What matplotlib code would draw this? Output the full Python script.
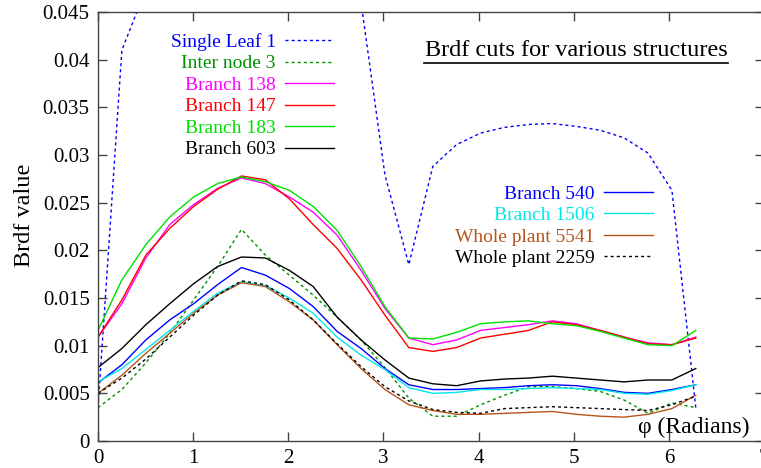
import matplotlib
matplotlib.use("Agg")
import matplotlib.pyplot as plt
from matplotlib.lines import Line2D

plt.rcParams['font.family'] = 'serif'
plt.rcParams['font.serif'] = ['Liberation Serif', 'DejaVu Serif']
plt.rcParams['font.size'] = 14

# azimuth angle phi (radians)
phi = [0.000, 0.251, 0.503, 0.754, 1.005, 1.257, 1.508, 1.759, 2.011, 2.262,
       2.513, 2.765, 3.016, 3.267, 3.519, 3.770, 4.021, 4.273, 4.524, 4.775,
       5.027, 5.278, 5.529, 5.781, 6.032, 6.283]

single_leaf_1 = [0.0035, 0.0410, 0.0474, 0.0490, 0.0500, 0.0510, 0.0515, 0.0510, 0.0500, 0.0490,
                 0.0475, 0.0460, 0.0279, 0.0185, 0.0288, 0.0311, 0.0323, 0.0329, 0.0332, 0.0333,
                 0.0330, 0.0326, 0.0318, 0.0302, 0.0263, 0.0035]
inter_node_3 = [0.0035, 0.0054, 0.0082, 0.0113, 0.0148, 0.0183, 0.0222, 0.0195, 0.0174, 0.0153,
                0.0130, 0.0106, 0.0077, 0.0045, 0.0026, 0.0026, 0.0038, 0.0048, 0.0057, 0.0057,
                0.0055, 0.0052, 0.0043, 0.0029, 0.0040, 0.0035]
branch_138 = [0.0109, 0.0144, 0.0192, 0.0227, 0.0248, 0.0265, 0.0276, 0.0270, 0.0256, 0.0240,
              0.0216, 0.0179, 0.0139, 0.0108, 0.0101, 0.0106, 0.0116, 0.0119, 0.0122, 0.0126,
              0.0123, 0.0116, 0.0109, 0.0103, 0.0101, 0.0109]
branch_147 = [0.0109, 0.0148, 0.0195, 0.0223, 0.0246, 0.0264, 0.0278, 0.0274, 0.0254, 0.0227,
              0.0202, 0.0169, 0.0132, 0.0098, 0.0094, 0.0098, 0.0108, 0.0112, 0.0116, 0.0125,
              0.0122, 0.0116, 0.0109, 0.0102, 0.0101, 0.0108]
branch_183 = [0.0116, 0.0169, 0.0206, 0.0235, 0.0256, 0.0270, 0.0277, 0.0272, 0.0263, 0.0246,
              0.0221, 0.0183, 0.0141, 0.0108, 0.0107, 0.0114, 0.0123, 0.0125, 0.0126, 0.0123,
              0.0121, 0.0115, 0.0108, 0.0101, 0.0100, 0.0116]
branch_603 = [0.0077, 0.0097, 0.0122, 0.0144, 0.0165, 0.0183, 0.0193, 0.0192, 0.0179, 0.0162,
              0.0130, 0.0106, 0.0085, 0.0066, 0.0060, 0.0058, 0.0063, 0.0065, 0.0066, 0.0068,
              0.0066, 0.0064, 0.0062, 0.0064, 0.0064, 0.0076]
branch_540 = [0.0061, 0.0080, 0.0106, 0.0127, 0.0144, 0.0164, 0.0182, 0.0174, 0.0160, 0.0141,
              0.0115, 0.0097, 0.0076, 0.0059, 0.0054, 0.0054, 0.0055, 0.0056, 0.0058, 0.0059,
              0.0058, 0.0055, 0.0051, 0.0050, 0.0054, 0.0059]
branch_1506 = [0.0062, 0.0076, 0.0096, 0.0116, 0.0136, 0.0155, 0.0167, 0.0163, 0.0150, 0.0134,
               0.0109, 0.0090, 0.0075, 0.0056, 0.0050, 0.0051, 0.0054, 0.0054, 0.0055, 0.0056,
               0.0055, 0.0054, 0.0050, 0.0049, 0.0053, 0.0059]
whole_plant_5541 = [0.0050, 0.0069, 0.0092, 0.0113, 0.0134, 0.0153, 0.0166, 0.0162, 0.0146, 0.0127,
                    0.0101, 0.0076, 0.0054, 0.0038, 0.0032, 0.0028, 0.0028, 0.0029, 0.0030, 0.0031,
                    0.0028, 0.0026, 0.0025, 0.0028, 0.0034, 0.0048]
whole_plant_2259 = [0.0050, 0.0066, 0.0086, 0.0109, 0.0132, 0.0153, 0.0168, 0.0164, 0.0148, 0.0127,
                    0.0102, 0.0078, 0.0057, 0.0042, 0.0033, 0.0030, 0.0029, 0.0034, 0.0035, 0.0036,
                    0.0035, 0.0034, 0.0033, 0.0032, 0.0038, 0.0047]

x_ticks = [0, 1, 2, 3, 4, 5, 6, 7]
y_ticks = [0, 0.005, 0.01, 0.015, 0.02, 0.025, 0.03, 0.035, 0.04, 0.045]
y_tick_labels = ['0', '0.005', '0.01', '0.015', '0.02', '0.025', '0.03', '0.035', '0.04', '0.045']

W, H = 761, 468
fig = plt.figure(figsize=(W / 100, H / 100), dpi=100)
ax = fig.add_axes([98 / W, (H - 441) / H, 666 / W, 429 / H])
ax.set_xlim(0, 7)
ax.set_ylim(0, 0.045)

dash = (0, (2.2, 2.2))
group1 = [
    (single_leaf_1, 'Single Leaf 1', '#0000ff', dash),
    (inter_node_3, 'Inter node 3', '#009000', dash),
    (branch_138, 'Branch 138', '#ff00ff', '-'),
    (branch_147, 'Branch 147', '#ff0000', '-'),
    (branch_183, 'Branch 183', '#00e000', '-'),
    (branch_603, 'Branch 603', '#000000', '-'),
]
group2 = [
    (branch_540, 'Branch 540', '#0000ff', '-'),
    (branch_1506, 'Branch 1506', '#00e8e8', '-'),
    (whole_plant_5541, 'Whole plant 5541', '#b5541c', '-'),
    (whole_plant_2259, 'Whole plant 2259', '#000000', dash),
]

h1, h2 = [], []
for ys, lab, col, ls in group1:
    ln, = ax.plot(phi, ys, color=col, linestyle=ls, linewidth=1.0, label=lab)
    h1.append(ln)
for ys, lab, col, ls in group2:
    ln, = ax.plot(phi, ys, color=col, linestyle=ls, linewidth=1.0, label=lab)
    h2.append(ln)

leg_kw = dict(frameon=False, markerfirst=False, labelcolor='linecolor',
              handlelength=2.5, handletextpad=0.5, borderpad=0, borderaxespad=0,
              labelspacing=0.2, fontsize=14, loc='upper right')
leg1 = ax.legend(handles=h1, bbox_to_anchor=(334 / W, 1 - 33 / H),
                 bbox_transform=fig.transFigure, **leg_kw)
ax.add_artist(leg1)
leg2 = ax.legend(handles=h2, bbox_to_anchor=(653 / W, 1 - 185 / H),
                 bbox_transform=fig.transFigure, **leg_kw)

ax.set_xticks(x_ticks)
ax.set_yticks(y_ticks)
ax.set_yticklabels(y_tick_labels)
ax.tick_params(direction='in', length=6.5, width=1, top=True, right=True,
               labelsize=15, pad=6, color='#444444')
for s in ax.spines.values():
    s.set_color('#444444')
    s.set_linewidth(1.0)

fig.text(576 / W, 1 - 51 / H, 'Brdf cuts for various structures', ha='center', va='center',
         fontsize=17.5)
fig.add_artist(Line2D([424 / W, 728 / W], [1 - 63 / H, 1 - 63 / H], color='black',
                      linewidth=1.2, transform=fig.transFigure))
fig.text(750 / W, 1 - 427 / H, 'φ (Radians)', ha='right', va='center', fontsize=17)
fig.text(25 / W, 1 - 215 / H, 'Brdf value', ha='center', va='center', rotation=90,
         fontsize=17.5)

fig.savefig('out.png', dpi=100)
